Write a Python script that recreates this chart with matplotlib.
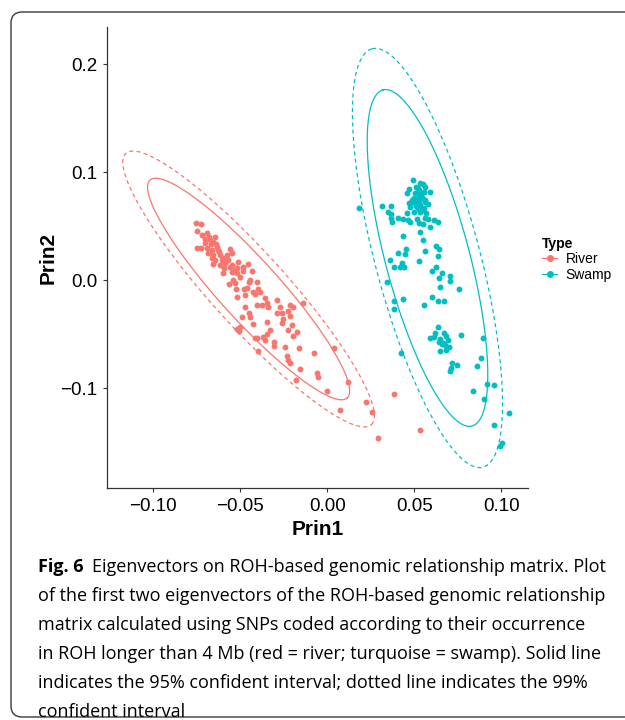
import numpy as np
import matplotlib
matplotlib.use("Agg")
import matplotlib.pyplot as plt
from matplotlib.patches import FancyBboxPatch
from matplotlib.lines import Line2D

plt.rcParams['font.family'] = ['Liberation Sans', 'DejaVu Sans']
plt.rcParams['axes.unicode_minus'] = True

# river points (Prin1, Prin2)
river_x = [-0.0753, -0.0726, -0.0749, -0.0720, -0.0692, -0.0644, -0.0672, -0.0701, -0.0653, -0.0634,
           -0.0749, -0.0724, -0.0692, -0.0663, -0.0625, -0.0682, -0.0653, -0.0615, -0.0557, -0.0577,
           -0.0548, -0.0644, -0.0605, -0.0567, -0.0653, -0.0615, -0.0592, -0.0557, -0.0519, -0.0481,
           -0.0510, -0.0596, -0.0548, -0.0519, -0.0500, -0.0538, -0.0561, -0.0529, -0.0452, -0.0433,
           -0.0481, -0.0443, -0.0448, -0.0404, -0.0462, -0.0477, -0.0523, -0.0519, -0.0471, -0.0423,
           -0.0414, -0.0385, -0.0356, -0.0375, -0.0404, -0.0347, -0.0337, -0.0471, -0.0395, -0.0289,
           -0.0270, -0.0213, -0.0197, -0.0222, -0.0261, -0.0213, -0.0289, -0.0203, -0.0261, -0.0251,
           -0.0222, -0.0197, -0.0174, -0.0328, -0.0347, -0.0347, -0.0366, -0.0356, -0.0308, -0.0308,
           -0.0404, -0.0414, -0.0423, -0.0443, -0.0448, -0.0490, -0.0500, -0.0515, -0.0504, -0.0395,
           -0.0241, -0.0232, -0.0222, -0.0213, -0.0159, -0.0155, -0.0073, -0.0056, -0.0050, -0.0002,
           0.0042, 0.0119, -0.0180, -0.0136, 0.0075, 0.0222, 0.0257, 0.0291, 0.0385, 0.0534,
           -0.0680, -0.0665, -0.0640, -0.0700, -0.0620, -0.0595, -0.0660, -0.0585, -0.0545, -0.0530]
river_y = [0.0525, 0.0519, 0.0457, 0.0417, 0.0438, 0.0401, 0.0370, 0.0340, 0.0355, 0.0309,
           0.0293, 0.0293, 0.0293, 0.0278, 0.0278, 0.0247, 0.0231, 0.0231, 0.0284, 0.0231,
           0.0247, 0.0185, 0.0185, 0.0185, 0.0148, 0.0139, 0.0108, 0.0123, 0.0108, 0.0117,
           0.0170, 0.0062, 0.0077, 0.0062, 0.0031, 0.0000, -0.0037, -0.0031, 0.0148, 0.0086,
           0.0086, 0.0000, -0.0015, -0.0015, -0.0077, -0.0083, -0.0086, -0.0160, -0.0139, -0.0108,
           -0.0130, -0.0108, -0.0170, -0.0231, -0.0231, -0.0216, -0.0247, -0.0253, -0.0086, -0.0185,
           -0.0247, -0.0231, -0.0247, -0.0284, -0.0309, -0.0333, -0.0309, -0.0417, -0.0401, -0.0364,
           -0.0463, -0.0519, -0.0478, -0.0463, -0.0386, -0.0500, -0.0525, -0.0556, -0.0571, -0.0611,
           -0.0540, -0.0534, -0.0407, -0.0346, -0.0309, -0.0340, -0.0432, -0.0454, -0.0469, -0.0654,
           -0.0617, -0.0704, -0.0741, -0.0772, -0.0633, -0.0827, -0.0679, -0.0858, -0.0901, -0.1025,
           -0.0633, -0.0941, -0.0926, -0.0210, -0.1204, -0.1127, -0.1219, -0.1460, -0.1056, -0.1390,
           0.0400, 0.0330, 0.0330, 0.0380, 0.0260, 0.0200, 0.0200, 0.0160, 0.0140, 0.0090]

# swamp points (Prin1, Prin2)
swamp_x = [0.0492, 0.0531, 0.0550, 0.0511, 0.0563, 0.0467, 0.0525, 0.0554, 0.0588, 0.0506,
           0.0534, 0.0458, 0.0515, 0.0544, 0.0487, 0.0563, 0.0467, 0.0506, 0.0534, 0.0577,
           0.0477, 0.0519, 0.0554, 0.0500, 0.0531, 0.0569, 0.0458, 0.0314, 0.0366, 0.0352,
           0.0366, 0.0366, 0.0372, 0.0404, 0.0435, 0.0464, 0.0477, 0.0515, 0.0525, 0.0550,
           0.0563, 0.0577, 0.0611, 0.0634, 0.0588, 0.0531, 0.0433, 0.0550, 0.0406, 0.0450,
           0.0444, 0.0561, 0.0625, 0.0642, 0.0636, 0.0362, 0.0527, 0.0385, 0.0416, 0.0429,
           0.0443, 0.0602, 0.0626, 0.0659, 0.0644, 0.0703, 0.0707, 0.0343, 0.0646, 0.0757,
           0.0385, 0.0433, 0.0385, 0.0602, 0.0634, 0.0669, 0.0556, 0.0636, 0.0621, 0.0592,
           0.0611, 0.0649, 0.0669, 0.0684, 0.0692, 0.0659, 0.0678, 0.0697, 0.0649, 0.0684,
           0.0770, 0.0895, 0.0716, 0.0745, 0.0707, 0.0713, 0.0860, 0.0883, 0.0837, 0.0918,
           0.0956, 0.0902, 0.1046, 0.0958, 0.0994, 0.1002, 0.0425, 0.0184,
           0.0520, 0.0540, 0.0500, 0.0560, 0.0530, 0.0510, 0.0545, 0.0490, 0.0640, 0.0665]
swamp_y = [0.0926, 0.0901, 0.0889, 0.0864, 0.0864, 0.0840, 0.0833, 0.0818, 0.0818, 0.0802,
           0.0796, 0.0809, 0.0772, 0.0756, 0.0741, 0.0741, 0.0710, 0.0710, 0.0694, 0.0704,
           0.0679, 0.0664, 0.0664, 0.0633, 0.0633, 0.0623, 0.0623, 0.0685, 0.0688, 0.0627,
           0.0611, 0.0571, 0.0540, 0.0571, 0.0562, 0.0556, 0.0540, 0.0565, 0.0525, 0.0519,
           0.0571, 0.0565, 0.0556, 0.0537, 0.0488, 0.0448, 0.0407, 0.0370, 0.0253, 0.0284,
           0.0238, 0.0272, 0.0315, 0.0284, 0.0222, 0.0182, 0.0176, 0.0117, 0.0117, 0.0154,
           0.0123, 0.0086, 0.0117, 0.0068, 0.0015, 0.0040, -0.0006, -0.0022, -0.0062, -0.0086,
           -0.0198, -0.0179, -0.0265, -0.0154, -0.0191, -0.0191, -0.0235, -0.0432, -0.0494, -0.0540,
           -0.0531, -0.0549, -0.0494, -0.0519, -0.0556, -0.0593, -0.0602, -0.0617, -0.0657, -0.0648,
           -0.0512, -0.0537, -0.0769, -0.0790, -0.0840, -0.0818, -0.0799, -0.0722, -0.1025, -0.0963,
           -0.0972, -0.1102, -0.1228, -0.1340, -0.1537, -0.1512, -0.0673, 0.0667,
           0.0850, 0.0780, 0.0760, 0.0720, 0.0730, 0.0690, 0.0650, 0.0720, -0.0570, -0.0580]

# ellipses: centre and two conjugate semi-axes of the 95% ellipse (data units)
river_centre = [-0.0451, -0.0083]
river_axes = [[0.0566, -0.1009], [0.01277, 0.01861]]
swamp_centre = [0.0576, 0.0204]
swamp_axes = [[-0.02557, 0.1556], [0.02333, 0.0100]]
scale_99 = 1.245

red = '#F8766D'
teal = '#00BFC4'

W, H = 625, 720
fig = plt.figure(figsize=(W / 100, H / 100), dpi=100)

def fx(px):
    return px / W

def fy(py):
    return 1 - py / H

# rounded frame around figure + caption
box = FancyBboxPatch((0.11, 0.03), 6.6, 7.05, boxstyle='round,pad=0,rounding_size=0.11',
                     transform=fig.dpi_scale_trans, fill=False, ec='#3a3a3a', lw=1.0)
fig.patches.append(box)

ax = fig.add_axes([fx(107), fy(488), fx(528) - fx(107), fy(27) - fy(488)])
ax.set_xlim(-0.1264, 0.1153)
ax.set_ylim(-0.1926, 0.2343)

t = np.linspace(0, 2 * np.pi, 300)
for c, axes_, col in [(river_centre, river_axes, red), (swamp_centre, swamp_axes, teal)]:
    m, n = np.array(axes_[0]), np.array(axes_[1])
    ex = c[0] + np.cos(t) * m[0] + np.sin(t) * n[0]
    ey = c[1] + np.cos(t) * m[1] + np.sin(t) * n[1]
    ax.plot(ex, ey, color=col, lw=0.9)
    ex2 = c[0] + scale_99 * (np.cos(t) * m[0] + np.sin(t) * n[0])
    ey2 = c[1] + scale_99 * (np.cos(t) * m[1] + np.sin(t) * n[1])
    ax.plot(ex2, ey2, color=col, lw=0.9, dashes=(3.2, 2.6))

ax.scatter(river_x, river_y, s=18, color=red, lw=0, zorder=3)
ax.scatter(swamp_x, swamp_y, s=18, color=teal, lw=0, zorder=3)

ax.set_xticks([-0.10, -0.05, 0.00, 0.05, 0.10])
ax.set_xticklabels(['\u22120.10', '\u22120.05', '0.00', '0.05', '0.10'])
ax.set_yticks([-0.1, 0.0, 0.1, 0.2])
ax.set_yticklabels(['\u22120.1', '0.0', '0.1', '0.2'])
ax.tick_params(labelsize=13.5, length=3, width=0.8, color='#333333', labelcolor='black', pad=4)
for s in ['top', 'right']:
    ax.spines[s].set_visible(False)
for s in ['left', 'bottom']:
    ax.spines[s].set_color('#333333')
    ax.spines[s].set_linewidth(0.9)
ax.set_xlabel('Prin1', fontsize=15, fontweight='bold', labelpad=4)
ax.set_ylabel('Prin2', fontsize=15, fontweight='bold', labelpad=2)

handles = [Line2D([], [], color=red, marker='o', ms=4, lw=0.9),
           Line2D([], [], color=teal, marker='o', ms=4, lw=0.9)]
leg = fig.legend(handles, ['River', 'Swamp'], title='Type', loc='upper left',
                 bbox_to_anchor=(fx(535), fy(230)), frameon=False, fontsize=10,
                 title_fontproperties={'weight': 'bold', 'size': 10},
                 handlelength=1.1, handletextpad=0.6, labelspacing=0.1,
                 borderpad=0, alignment='left')

# caption
cap_font = ['Open Sans', 'DejaVu Sans']
cap_size = 13.0
fig_lbl = fig.text(fx(38), fy(567), 'Fig. 6', family=cap_font, fontsize=cap_size,
                   fontweight='bold', va='center', ha='left')
fig.canvas.draw()
bb = fig_lbl.get_window_extent()
fig.text((bb.x1 + 8) / W, fy(567), 'Eigenvectors on ROH-based genomic relationship matrix. Plot',
         family=cap_font, fontsize=cap_size, va='center', ha='left')
lines = ['of the first two eigenvectors of the ROH-based genomic relationship',
         'matrix calculated using SNPs coded according to their occurrence',
         'in ROH longer than 4 Mb (red = river; turquoise = swamp). Solid line',
         'indicates the 95% confident interval; dotted line indicates the 99%',
         'confident interval']
for i, ln in enumerate(lines):
    fig.text(fx(38), fy(596 + 29 * i), ln, family=cap_font, fontsize=cap_size,
             va='center', ha='left')

fig.savefig('out.png', dpi=100)
